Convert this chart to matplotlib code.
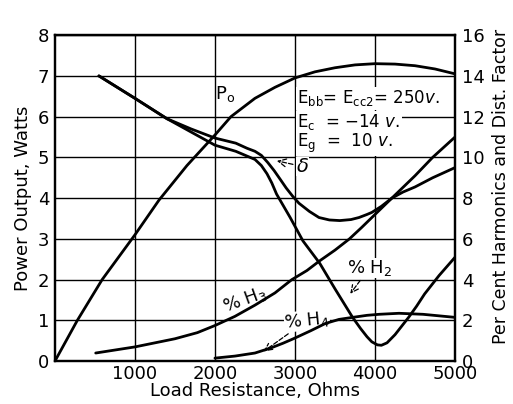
import matplotlib
matplotlib.use("Agg")
import matplotlib.pyplot as plt

# load resistance (ohms) and curves
po_x = [0, 280, 590, 1000, 1300, 1650, 2000, 2200, 2500, 2750, 3000, 3250, 3500, 3750,
        4000, 4250, 4500, 4750, 5000]
po_y = [0, 1.0, 2.0, 3.1, 3.95, 4.8, 5.55, 6.0, 6.45, 6.72, 6.95, 7.1, 7.2, 7.27,
        7.3, 7.29, 7.25, 7.17, 7.05]

dist_x = [550, 1000, 1400, 1700, 2000, 2260, 2400, 2500, 2580, 2660, 2740, 2820, 2890,
          2970, 3050, 3180, 3300, 3430, 3560, 3700, 3800, 3900, 3960, 4080, 4210,
          4350, 4500, 4720, 5000]
dist_y = [14.0, 12.9, 11.9, 11.4, 10.95, 10.7, 10.45, 10.3, 10.1, 9.75, 9.35, 8.9, 8.5,
          8.1, 7.75, 7.35, 7.05, 6.93, 6.9, 6.95, 7.05, 7.2, 7.3, 7.6, 8.0,
          8.3, 8.55, 9.0, 9.5]

h2_x = [550, 1000, 1400, 1700, 2000, 2260, 2500, 2580, 2650, 2710, 2770, 2940, 3100,
        3310, 3500, 3720, 3820, 3900, 3960, 4030, 4080, 4150, 4250, 4330, 4420,
        4520, 4620, 4800, 5000]
h2_y = [14.0, 12.9, 11.9, 11.25, 10.6, 10.3, 9.9, 9.6, 9.2, 8.75, 8.2, 7.05, 5.9,
        4.8, 3.55, 2.15, 1.6, 1.2, 0.95, 0.8, 0.78, 0.9, 1.3, 1.7, 2.15,
        2.7, 3.3, 4.2, 5.1]

h3_x = [510, 1000, 1500, 1780, 2000, 2250, 2500, 2750, 2960, 3150, 3300, 3500, 3680,
        3830, 4000, 4210, 4500, 4720, 5000]
h3_y = [0.4, 0.7, 1.1, 1.4, 1.75, 2.2, 2.75, 3.35, 4.0, 4.45, 4.9, 5.45, 6.0,
        6.55, 7.2, 8.0, 9.1, 10.0, 11.0]

h4_x = [2000, 2250, 2500, 2700, 2850, 2980, 3200, 3380, 3550, 3720, 3900, 4050,
        4300, 4600, 5000]
h4_y = [0.15, 0.25, 0.4, 0.65, 0.88, 1.1, 1.5, 1.85, 2.05, 2.15, 2.25, 2.3,
        2.35, 2.3, 2.15]

x_ticks = [1000, 2000, 3000, 4000, 5000]
left_ticks = list(range(0, 9))
right_ticks = list(range(0, 17, 2))

plt.rcParams['font.family'] = 'DejaVu Sans'
fig = plt.figure(figsize=(5.13, 4.04), dpi=100)
ax = fig.add_axes([0.107, 0.106, 0.780, 0.807])
ax2 = ax.twinx()

lw = 2.0
ax.plot(po_x, po_y, color='black', lw=lw, solid_capstyle='round',
        solid_joinstyle='round', zorder=3)
for xs, ys in [(dist_x, dist_y), (h2_x, h2_y), (h3_x, h3_y), (h4_x, h4_y)]:
    ax2.plot(xs, ys, color='black', lw=lw, solid_capstyle='round',
             solid_joinstyle='round', zorder=3)

ax.set_xlim(0, 5000)
ax.set_ylim(0, 8)
ax2.set_ylim(0, 16)
ax.set_xticks(x_ticks)
ax.set_yticks(left_ticks)
ax2.set_yticks(right_ticks)
ax.grid(True, color='black', lw=1.0)
ax.set_axisbelow(True)
for a in (ax, ax2):
    a.tick_params(length=0, labelsize=13, pad=4)
    for s in a.spines.values():
        s.set_linewidth(1.6)
ax.tick_params(axis='x', pad=3)
ax2.tick_params(pad=5)

ax.set_xlabel("Load Resistance, Ohms", fontsize=13, labelpad=-1)
ax.set_ylabel("Power Output, Watts", fontsize=13, labelpad=4)
ax2.set_ylabel("Per Cent Harmonics and Dist. Factor", fontsize=12.5)
ax2.yaxis.set_label_coords(1.093, 0.535)

# labels on the curves (left-axis data coords)
ax.text(2125, 6.55, r"$\mathregular{P_o}$", fontsize=13, ha='center', va='center')
box = dict(facecolor='white', edgecolor='none', pad=1)
ax.text(3030, 6.45, r"$\mathregular{E_{bb}}$= $\mathregular{E_{cc2}}$= $\mathit{250v.}$",
        fontsize=12, ha='left', va='center', bbox=box, zorder=4)
ax.text(3030, 5.86, r"$\mathregular{E_c}$  = $-\mathit{14\ v.}$",
        fontsize=12, ha='left', va='center', bbox=box, zorder=4)
ax.text(3030, 5.35, r"$\mathregular{E_g}$  =  $\mathit{10\ v.}$",
        fontsize=12, ha='left', va='center', bbox=box, zorder=4)

arrow = dict(arrowstyle='->', linestyle='--', color='black', lw=0.9)
ax.annotate(r"$\delta$", xy=(2740, 4.93), xytext=(3090, 4.78), fontsize=14,
            ha='center', va='center', arrowprops=arrow,
            bbox=dict(facecolor='white', edgecolor='none', pad=0))
ax.annotate(r"% H$_\mathregular{2}$", xy=(3670, 1.6), xytext=(3930, 2.28), fontsize=13,
            ha='center', va='center', arrowprops=arrow,
            bbox=dict(facecolor='white', edgecolor='none', pad=0))
ax.text(2380, 1.5, r"% H$_\mathregular{3}$", fontsize=13, ha='center', va='center',
        rotation=20, bbox=dict(facecolor='white', edgecolor='none', pad=0))
ax.annotate(r"% H$_\mathregular{4}$", xy=(2580, 0.2), xytext=(3150, 1.0), fontsize=13,
            ha='center', va='center', rotation=6, arrowprops=arrow,
            bbox=dict(facecolor='white', edgecolor='none', pad=0))

fig.savefig("out.png", dpi=100)
